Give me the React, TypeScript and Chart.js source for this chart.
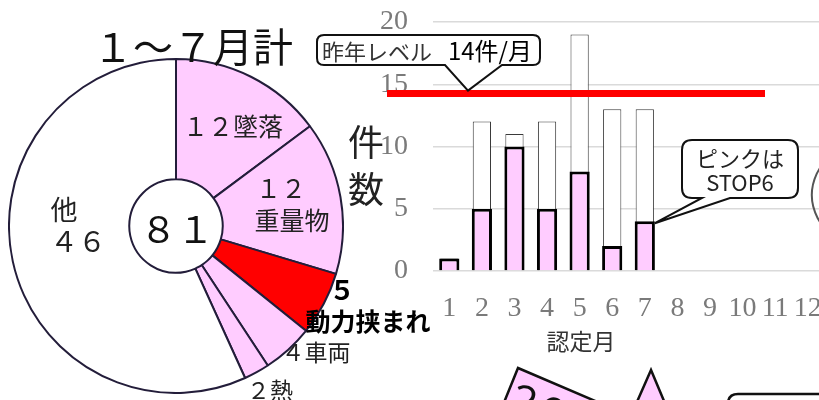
import React, { useEffect, useRef } from 'react';
import { Chart, registerables } from 'chart.js';
Chart.register(...registerables);

// ---- data ----
const pieNames = ['墜落', '重量物', '動力挟まれ', '車両', '熱', '他'];
const pieCounts = [12, 12, 5, 4, 2, 46];
const pieColors = ['#FFCCFF', '#FFCCFF', '#FF0000', '#FFCCFF', '#FFCCFF', '#FFFFFF'];
const pieTitle = '１～７月計';

const months = ['1', '2', '3', '4', '5', '6', '7', '8', '9', '10', '11', '12'];
const totals = [1, 12, 11, 12, 19, 13, 13];
const stop6 = [1, 5, 10, 5, 8, 2, 4];
const yTicksMin = 0;
const yTicksMax = 20;
const yTickStep = 5;
const lastYearLevel = 14.25;
const lastYearLabel = '昨年レベル';
const lastYearValueLabel = '14件/月';
const noteLines = ['ピンクは', 'STOP6'];
const yTitleChars = ['件', '数'];
const xTitle = '認定月';

const toFull = (n: number) => String(n).replace(/[0-9]/g, (d) => String.fromCharCode(d.charCodeAt(0) + 0xfee0));

const JP = '"Noto Sans CJK JP", "Noto Sans", sans-serif';

type Lbl = { t: string; x: number; y: number; s: number; c?: string; w?: number };

const pieSum = pieCounts.reduce((a, b) => a + b, 0);

const labels: Lbl[] = [
  { t: pieTitle, x: 193, y: 45, s: 40, c: '#111' },
  { t: toFull(pieCounts[0]) + pieNames[0], x: 233, y: 125, s: 25, c: '#222' },
  { t: toFull(pieCounts[1]), x: 281, y: 187, s: 25, c: '#222' },
  { t: pieNames[1], x: 292, y: 219, s: 25, c: '#222' },
  { t: toFull(pieCounts[2]), x: 342, y: 289, s: 26, c: '#000', w: 700 },
  { t: pieNames[2], x: 368, y: 320, s: 25, c: '#000', w: 700 },
  { t: toFull(pieCounts[3]) + pieNames[3], x: 316, y: 351, s: 23, c: '#222' },
  { t: toFull(pieCounts[4]) + pieNames[4], x: 270, y: 389, s: 23, c: '#222' },
  { t: pieNames[5], x: 64, y: 208, s: 27, c: '#222' },
  { t: toFull(pieCounts[5]), x: 78, y: 240, s: 28, c: '#222' },
  { t: toFull(pieSum), x: 177, y: 227, s: 37, c: '#111' },
  { t: yTitleChars[0], x: 366, y: 140, s: 36, c: '#222' },
  { t: yTitleChars[1], x: 366, y: 187, s: 36, c: '#222' },
  { t: xTitle, x: 581, y: 340, s: 23, c: '#333' },
  { t: lastYearLabel, x: 377, y: 50, s: 22, c: '#333' },
  { t: lastYearValueLabel, x: 490, y: 50, s: 24, c: '#000' },
  { t: noteLines[0], x: 740, y: 157, s: 22, c: '#222' },
  { t: noteLines[1], x: 740, y: 181, s: 22, c: '#222' },
];

function roundRectPath(ctx: CanvasRenderingContext2D, x0: number, y0: number, x1: number, y1: number, r: number, ptr?: [number, number, number, number]) {
  ctx.beginPath();
  ctx.moveTo(x0 + r, y0);
  ctx.lineTo(x1 - r, y0);
  ctx.quadraticCurveTo(x1, y0, x1, y0 + r);
  ctx.lineTo(x1, y1 - r);
  ctx.quadraticCurveTo(x1, y1, x1 - r, y1);
  if (ptr) {
    ctx.lineTo(ptr[0], y1);
    ctx.lineTo(ptr[2], ptr[3]);
    ctx.lineTo(ptr[1], y1);
  }
  ctx.lineTo(x0 + r, y1);
  ctx.quadraticCurveTo(x0, y1, x0, y1 - r);
  ctx.lineTo(x0, y0 + r);
  ctx.quadraticCurveTo(x0, y0, x0 + r, y0);
  ctx.closePath();
}

// Fix the plot area to the reference frame (top of 20-line and bottom of 0-line)
const PLOT_TOP = 22;
const PLOT_BOTTOM = 271;

const decorPlugin = {
  id: 'decor',
  afterDatasetsDraw(chart: any) {
    const ctx: CanvasRenderingContext2D = chart.ctx;
    const yS = chart.scales.y;
    ctx.save();
    const ly = yS.getPixelForValue(lastYearLevel);
    ctx.strokeStyle = '#FF0000';
    ctx.lineWidth = 7;
    ctx.beginPath();
    ctx.moveTo(387, ly);
    ctx.lineTo(765, ly);
    ctx.stroke();

    ctx.lineWidth = 2;
    ctx.strokeStyle = '#111';
    ctx.fillStyle = '#fff';
    roundRectPath(ctx, 317, 35, 540, 65, 7, [502, 445, 468, ly - 3]);
    ctx.fill();
    ctx.stroke();
    const meta = chart.getDatasetMeta(0);
    const el = meta.data[6];
    const ax = el ? el.x + el.width / 2 : 655;
    const ay = el ? el.y + 2 : 219;
    roundRectPath(ctx, 682, 140, 798, 198, 10, [730, 702, ax, ay]);
    ctx.fill();
    ctx.stroke();

    ctx.strokeStyle = '#555';
    ctx.beginPath();
    ctx.ellipse(880, 195, 68, 58, 0, Math.PI * 0.62, Math.PI * 1.38);
    ctx.stroke();

    ctx.strokeStyle = '#111';
    ctx.lineWidth = 2.5;
    ctx.fillStyle = '#FFCCFF';
    ctx.beginPath();
    ctx.moveTo(518, 368);
    ctx.lineTo(656, 427);
    ctx.lineTo(630, 490);
    ctx.lineTo(492, 432);
    ctx.closePath();
    ctx.fill();
    ctx.stroke();
    ctx.beginPath();
    ctx.moveTo(651, 370);
    ctx.lineTo(629, 420);
    ctx.lineTo(672, 420);
    ctx.closePath();
    ctx.fill();
    ctx.stroke();
    ctx.fillStyle = '#fff';
    roundRectPath(ctx, 728, 394, 900, 460, 10);
    ctx.fill();
    ctx.stroke();
    ctx.restore();
  },
};

export default function App() {
  const pieRef = useRef<HTMLCanvasElement>(null);
  const barRef = useRef<HTMLCanvasElement>(null);

  useEffect(() => {
    const pie = new Chart(pieRef.current!, {
      type: 'doughnut',
      data: {
        labels: pieNames,
        datasets: [
          {
            data: pieCounts,
            backgroundColor: pieColors,
            borderColor: '#231d3a',
            borderWidth: 2,
          },
        ],
      },
      options: {
        responsive: false,
        animation: false,
        cutout: '28%',
        layout: { padding: 0 },
        plugins: { legend: { display: false }, tooltip: { enabled: false } },
      },
    });

    const serif = { family: '"Liberation Serif", "DejaVu Serif", serif', size: 28, lineHeight: 1 };
    const bar = new Chart(barRef.current!, {
      type: 'bar',
      data: {
        labels: months,
        datasets: [
          {
            label: 'STOP6',
            data: stop6,
            backgroundColor: '#FFCCFF',
            borderColor: '#000',
            borderWidth: 3,
            barPercentage: 0.62,
            categoryPercentage: 1,
            order: 0,
          },
          {
            label: '全体',
            data: totals,
            backgroundColor: '#FFFFFF',
            borderColor: '#3a3a3a',
            borderWidth: 1,
            barPercentage: 0.56,
            categoryPercentage: 1,
            order: 1,
          },
        ],
      },
      options: {
        responsive: false,
        animation: false,
        layout: { padding: { left: 380, right: 16, top: PLOT_TOP, bottom: 0 } },
        plugins: { legend: { display: false }, tooltip: { enabled: false } },
        scales: {
          x: {
            stacked: true,
            grid: { display: false, drawTicks: false },
            border: { display: false },
            ticks: { color: '#7a7a7a', font: serif, padding: 24, autoSkip: false, maxRotation: 0 },
            afterFit: (s: any) => {
              s.height = 400 - PLOT_BOTTOM;
              s.paddingLeft = 0;
              s.paddingRight = 0;
            },
          },
          y: {
            min: yTicksMin,
            max: yTicksMax,
            ticks: { stepSize: yTickStep, color: '#7a7a7a', font: serif, padding: 25 },
            grid: { color: '#dadada', lineWidth: 1.5, drawTicks: false },
            border: { display: false },
            afterFit: (s: any) => {
              s.width = 53;
              s.paddingTop = 0;
              s.paddingBottom = 0;
            },
          },
        },
      },
      plugins: [decorPlugin],
    });

    return () => {
      pie.destroy();
      bar.destroy();
    };
  }, []);

  return (
    <div
      style={{
        position: 'fixed',
        left: 0,
        top: 0,
        width: 819,
        height: 400,
        overflow: 'hidden',
        background: '#fff',
      }}
    >
      <canvas ref={pieRef} width={336} height={336} style={{ position: 'absolute', left: 8, top: 58, width: 336, height: 336 }} />
      <canvas ref={barRef} width={840} height={400} style={{ position: 'absolute', left: 0, top: 0, width: 840, height: 400 }} />
      {labels.map((l, i) => (
        <div
          key={i}
          style={{
            position: 'absolute',
            left: l.x,
            top: l.y,
            transform: 'translate(-50%, -50%)',
            fontFamily: JP,
            fontSize: l.s,
            lineHeight: 1,
            color: l.c || '#000',
            fontWeight: l.w || 400,
            whiteSpace: 'nowrap',
          }}
        >
          {l.t}
        </div>
      ))}
      <div
        style={{
          position: 'absolute',
          left: 514,
          top: 372,
          transform: 'rotate(23deg)',
          transformOrigin: '0 0',
          fontFamily: JP,
          fontSize: 40,
          lineHeight: 1,
          letterSpacing: -10,
          color: '#111',
          whiteSpace: 'nowrap',
        }}
      >
        {toFull(20)}
      </div>
    </div>
  );
}
